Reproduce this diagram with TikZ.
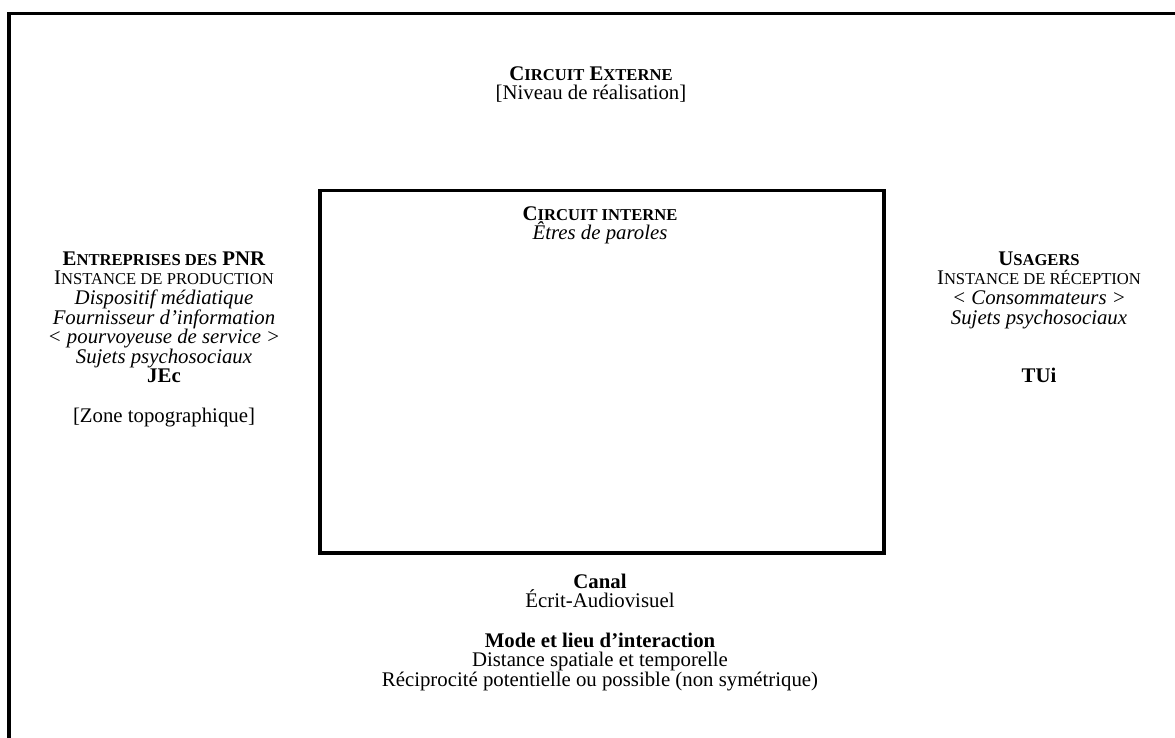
\documentclass[tikz,border=0pt]{standalone}
\usepackage{fontspec}
\setmainfont{Liberation Serif}
\newcommand\fsc[2]{#1{\fontsize{16.6}{16.6}\selectfont #2}}
\newcommand\tstrut{\rule{0pt}{19pt}}
\begin{document}
\begin{tikzpicture}[x=1pt,y=-1pt,
  frame/.style={draw=black,line width=3.5pt},
  txt/.style={align=center,inner sep=0pt,anchor=north,font=\fontsize{20.8}{19.6}\selectfont}]
\useasboundingbox (0,0) rectangle (1175,738);
\draw[frame] (9,13.5) rectangle (1250,800);
\node[draw=black,line width=3.5pt,minimum width=564pt,minimum height=362pt,inner sep=0pt,anchor=north west] (inner) at (318,189) {};
\node[txt] (ext) at (591,61) {\tstrut\textbf{\fsc{C}{IRCUIT} \fsc{E}{XTERNE}}\\ {[}Niveau de réalisation{]}};
\node[txt] (int) at (600,201) {\tstrut\textbf{\fsc{C}{IRCUIT INTERNE}}\\ \textit{Êtres de paroles}};
\node[txt] (ent) at (164,246) {\tstrut\textbf{\fsc{E}{NTREPRISES DES} PNR}\\ \fsc{I}{NSTANCE DE PRODUCTION}\\ \textit{Dispositif médiatique}\\ \textit{Fournisseur d’information}\\ \textit{< pourvoyeuse de service >}\\ \textit{Sujets psychosociaux}\\ \textbf{JEc}\\[19.6pt] {[}Zone topographique{]}};
\node[txt] (usa) at (1039,246) {\tstrut\textbf{\fsc{U}{SAGERS}}\\ \fsc{I}{NSTANCE DE RÉCEPTION}\\ \textit{< Consommateurs >}\\ \textit{Sujets psychosociaux}\\[39.2pt] \textbf{TUi}};
\node[txt] (can) at (600,569) {\tstrut\textbf{Canal}\\ Écrit-Audiovisuel\\[19.6pt] \textbf{Mode et lieu d’interaction}\\ Distance spatiale et temporelle\\ Réciprocité potentielle ou possible (non symétrique)};
\end{tikzpicture}
\end{document}
